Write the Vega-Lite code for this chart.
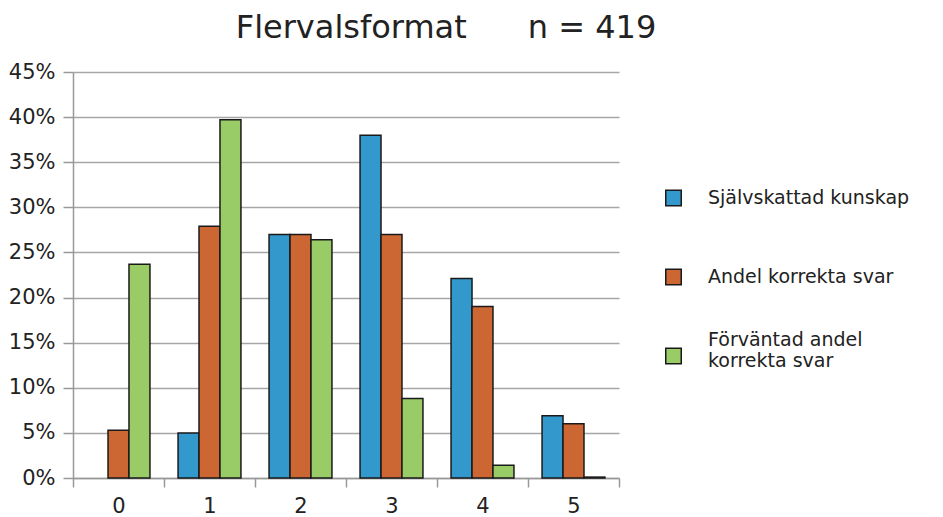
{
  "$schema": "https://vega.github.io/schema/vega-lite/v6.json",
  "autosize": {"type": "none"},
  "width": 546,
  "height": 406,
  "padding": {"left": 73, "top": 72, "right": 324, "bottom": 39},
  "background": "white",
  "title": {
    "text": "Flervalsformat\u00a0\u00a0\u00a0\u00a0\u00a0\u00a0n = 419",
    "font": "DejaVu Sans",
    "fontSize": 32,
    "fontWeight": "normal",
    "color": "#222222",
    "anchor": "middle",
    "dx": 100,
    "offset": 16
  },
  "data": {
    "values": [
      {"poang": "0", "serie": "Andel korrekta svar", "andel": 0.053},
      {"poang": "0", "serie": "Förväntad andel korrekta svar", "andel": 0.237},
      {"poang": "1", "serie": "Självskattad kunskap", "andel": 0.050},
      {"poang": "1", "serie": "Andel korrekta svar", "andel": 0.279},
      {"poang": "1", "serie": "Förväntad andel korrekta svar", "andel": 0.397},
      {"poang": "2", "serie": "Självskattad kunskap", "andel": 0.270},
      {"poang": "2", "serie": "Andel korrekta svar", "andel": 0.270},
      {"poang": "2", "serie": "Förväntad andel korrekta svar", "andel": 0.264},
      {"poang": "3", "serie": "Självskattad kunskap", "andel": 0.380},
      {"poang": "3", "serie": "Andel korrekta svar", "andel": 0.270},
      {"poang": "3", "serie": "Förväntad andel korrekta svar", "andel": 0.088},
      {"poang": "4", "serie": "Självskattad kunskap", "andel": 0.221},
      {"poang": "4", "serie": "Andel korrekta svar", "andel": 0.190},
      {"poang": "4", "serie": "Förväntad andel korrekta svar", "andel": 0.014},
      {"poang": "5", "serie": "Självskattad kunskap", "andel": 0.069},
      {"poang": "5", "serie": "Andel korrekta svar", "andel": 0.060},
      {"poang": "5", "serie": "Förväntad andel korrekta svar", "andel": 0.001}
    ]
  },
  "mark": {"type": "bar", "stroke": "#1a1a1a", "strokeWidth": 1.5},
  "encoding": {
    "x": {
      "field": "poang",
      "type": "nominal",
      "scale": {"paddingInner": 0, "paddingOuter": 0},
      "axis": {
        "title": null,
        "labelAngle": 0,
        "labelFont": "DejaVu Sans",
        "labelFontSize": 21,
        "labelColor": "#222222",
        "labelPadding": 8,
        "tickBand": "extent",
        "tickColor": "#999999",
        "tickWidth": 1.5,
        "tickSize": 9,
        "domainColor": "#999999",
        "domainWidth": 1.5
      }
    },
    "xOffset": {
      "field": "serie",
      "type": "nominal",
      "sort": ["Självskattad kunskap", "Andel korrekta svar", "Förväntad andel korrekta svar"],
      "scale": {"paddingInner": 0, "paddingOuter": 0.67}
    },
    "y": {
      "field": "andel",
      "type": "quantitative",
      "scale": {"domain": [0, 0.45], "nice": false},
      "axis": {
        "title": null,
        "values": [0, 0.05, 0.1, 0.15, 0.2, 0.25, 0.3, 0.35, 0.4, 0.45],
        "format": ".0%",
        "labelFont": "DejaVu Sans",
        "labelFontSize": 21,
        "labelColor": "#222222",
        "labelPadding": 8,
        "grid": true,
        "gridColor": "#a6a6a6",
        "gridWidth": 1.5,
        "tickColor": "#999999",
        "tickWidth": 1.5,
        "tickSize": 10,
        "domainColor": "#999999",
        "domainWidth": 1.5
      }
    },
    "color": {
      "field": "serie",
      "type": "nominal",
      "sort": ["Självskattad kunskap", "Andel korrekta svar", "Förväntad andel korrekta svar"],
      "scale": {
        "domain": ["Självskattad kunskap", "Andel korrekta svar", "Förväntad andel korrekta svar"],
        "range": ["#3399cc", "#cc6633", "#99cc66"]
      },
      "legend": {
        "title": null,
        "orient": "none",
        "legendX": 591,
        "legendY": 96,
        "clipHeight": 60,
        "symbolType": "square",
        "symbolSize": 240,
        "symbolStrokeColor": "#1a1a1a",
        "symbolStrokeWidth": 1.5,
        "labelFont": "DejaVu Sans",
        "labelFontSize": 19,
        "labelColor": "#222222",
        "labelOffset": 25,
        "labelLimit": 300,
        "rowPadding": 19,
        "labelExpr": "datum.label == 'Förväntad andel korrekta svar' ? ['Förväntad andel', 'korrekta svar'] : datum.label",
        "encode": {
          "labels": {
            "update": {
              "dy": {"signal": "datum.value == 'Förväntad andel korrekta svar' ? -16 : 0"}
            }
          }
        }
      }
    }
  },
  "config": {
    "view": {"stroke": null}
  }
}
